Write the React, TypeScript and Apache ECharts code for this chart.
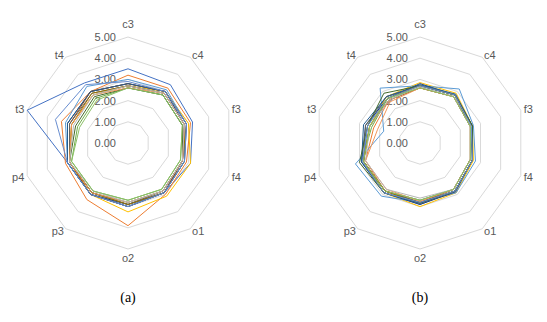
import React, { useEffect, useRef } from 'react';
import * as echarts from 'echarts';

// axes in clockwise reading order, starting at the top
const axes = ['c3', 'c4', 'f3', 'f4', 'o1', 'o2', 'p3', 'p4', 't3', 't4'];
const maxValue = 5;
const panelLabels = ['(a)', '(b)'];

const colors = [
  '#4472C4', '#ED7D31', '#A5A5A5', '#FFC000', '#5B9BD5', '#70AD47', '#264478', '#9E480E',
  '#636363', '#997300', '#255E91', '#43682B', '#698ED0', '#F1975A', '#B7B7B7', '#8CC168',
];

// values per series in axes order
const seriesA = [
  [3.5, 3.4, 3.2, 3.1, 2.9, 2.9, 3.0, 3.0, 5.0, 3.5],
  [3.2, 3.2, 3.1, 2.9, 3.0, 3.9, 3.3, 3.1, 3.3, 3.0],
  [2.7, 2.9, 2.8, 2.7, 2.8, 2.9, 2.9, 2.9, 2.8, 2.8],
  [2.7, 3.0, 3.0, 3.1, 3.1, 3.25, 3.0, 2.9, 2.8, 2.8],
  [3.0, 3.1, 2.9, 2.8, 2.9, 3.0, 3.0, 3.0, 3.1, 3.3],
  [2.6, 2.8, 2.7, 2.6, 2.7, 2.7, 2.8, 2.8, 2.5, 2.6],
  [2.8, 3.0, 2.8, 2.7, 2.9, 2.9, 3.0, 3.0, 3.0, 3.0],
  [2.8, 3.0, 2.9, 2.7, 2.9, 3.0, 3.0, 2.9, 2.9, 3.0],
  [2.7, 2.9, 2.8, 2.7, 2.8, 2.9, 2.9, 2.9, 2.9, 2.9],
  [2.7, 2.9, 2.8, 2.8, 2.9, 2.9, 2.9, 2.9, 2.8, 2.9],
  [2.8, 3.0, 2.9, 2.8, 2.9, 3.0, 3.0, 3.0, 3.0, 3.0],
  [2.6, 2.8, 2.7, 2.7, 2.8, 2.8, 2.9, 2.9, 2.6, 2.7],
  [2.9, 3.0, 2.9, 2.8, 2.9, 3.0, 3.0, 3.0, 3.6, 3.4],
  [2.6, 2.9, 2.8, 2.7, 2.8, 2.8, 2.9, 2.9, 2.8, 2.8],
  [2.7, 2.9, 2.8, 2.7, 2.8, 2.8, 2.8, 2.9, 2.7, 2.8],
  [2.6, 2.8, 2.7, 2.6, 2.7, 2.7, 2.8, 2.8, 2.4, 2.5],
];

const seriesB = [
  [2.7, 2.8, 2.6, 2.6, 2.8, 2.9, 2.9, 2.8, 2.6, 2.7],
  [2.6, 2.7, 2.5, 2.5, 2.7, 2.8, 2.8, 2.7, 2.3, 2.5],
  [2.7, 2.8, 2.5, 2.5, 2.7, 2.7, 2.8, 2.8, 2.5, 2.6],
  [2.85, 2.9, 2.6, 2.65, 2.9, 3.0, 2.9, 2.8, 2.5, 2.7],
  [2.7, 3.15, 2.65, 2.75, 2.9, 2.8, 3.1, 3.2, 1.8, 3.2],
  [2.6, 2.7, 2.5, 2.5, 2.7, 2.7, 2.8, 2.9, 2.4, 2.6],
  [2.8, 2.8, 2.6, 2.6, 2.85, 2.9, 2.9, 2.9, 2.7, 2.6],
  [2.6, 2.7, 2.5, 2.5, 2.7, 2.8, 2.8, 2.8, 2.5, 2.5],
  [2.7, 2.8, 2.5, 2.6, 2.8, 2.8, 2.8, 2.8, 2.7, 2.7],
  [2.7, 2.8, 2.6, 2.6, 2.8, 2.85, 2.8, 2.8, 2.5, 2.6],
  [2.75, 2.85, 2.6, 2.6, 2.8, 2.85, 2.9, 2.9, 2.8, 2.7],
  [2.7, 2.8, 2.6, 2.6, 2.8, 2.8, 2.9, 3.0, 2.6, 2.9],
  [2.7, 2.8, 2.55, 2.6, 2.8, 2.8, 2.9, 2.85, 2.6, 2.6],
  [2.6, 2.7, 2.5, 2.5, 2.7, 2.75, 2.7, 2.7, 2.1, 2.4],
  [2.65, 2.7, 2.5, 2.5, 2.7, 2.6, 2.7, 2.7, 2.5, 2.5],
  [2.6, 2.7, 2.5, 2.5, 2.7, 2.7, 2.8, 2.8, 2.5, 2.6],
];

// ECharts lays indicators out counter-clockwise; reorder so they read clockwise
const order = [0, 9, 8, 7, 6, 5, 4, 3, 2, 1];
const reorder = (arr: number[]) => order.map((i) => arr[i]);

const FONT = 'Liberation Sans';

function makeRadar(cx: number) {
  return {
    center: [cx, 143],
    radius: 106,
    startAngle: 90,
    shape: 'polygon',
    splitNumber: 5,
    axisName: { color: '#595959', fontSize: 11, fontFamily: FONT },
    nameGap: 3,
    axisLine: { show: false },
    axisTick: { show: false },
    splitArea: { show: false },
    splitLine: { lineStyle: { color: '#d9d9d9', width: 1 } },
    axisLabel: {
      show: true,
      color: '#595959',
      fontSize: 11,
      fontFamily: FONT,
      margin: 12,
      formatter: (v: number) => Number(v).toFixed(2),
    },
    indicator: order.map((i, k) =>
      k === 0
        ? {
            name: axes[i],
            min: 0,
            max: maxValue,
            nameTextStyle: { padding: [0, 0, 5, 0] },
          }
        : { name: axes[i], min: 0, max: maxValue, axisLabel: { show: false } }
    ),
  };
}

function makeSeries(radarIndex: number, data: number[][]) {
  return {
    type: 'radar',
    radarIndex,
    symbol: 'none',
    silent: true,
    data: data.map((vals, j) => ({
      value: reorder(vals),
      lineStyle: { color: colors[j % colors.length], width: 1 },
      itemStyle: { color: colors[j % colors.length] },
    })),
  };
}

export default function App() {
  const ref = useRef<HTMLDivElement>(null);
  useEffect(() => {
    if (!ref.current) return;
    const chart = echarts.init(ref.current, undefined, { renderer: 'svg' });
    chart.setOption({
      animation: false,
      backgroundColor: '#ffffff',
      radar: [makeRadar(128), makeRadar(420)],
      series: [makeSeries(0, seriesA), makeSeries(1, seriesB)],
      graphic: panelLabels.map((t, i) => ({
        type: 'text',
        x: i === 0 ? 128 : 420,
        y: 297,
        style: {
          text: t,
          fill: '#000000',
          font: '14px "Liberation Serif"',
          textAlign: 'center',
          textVerticalAlign: 'middle',
        },
      })),
    });
    return () => chart.dispose();
  }, []);
  return (
    <div
      ref={ref}
      style={{ position: 'absolute', left: 0, top: 0, width: 547, height: 322 }}
    />
  );
}
